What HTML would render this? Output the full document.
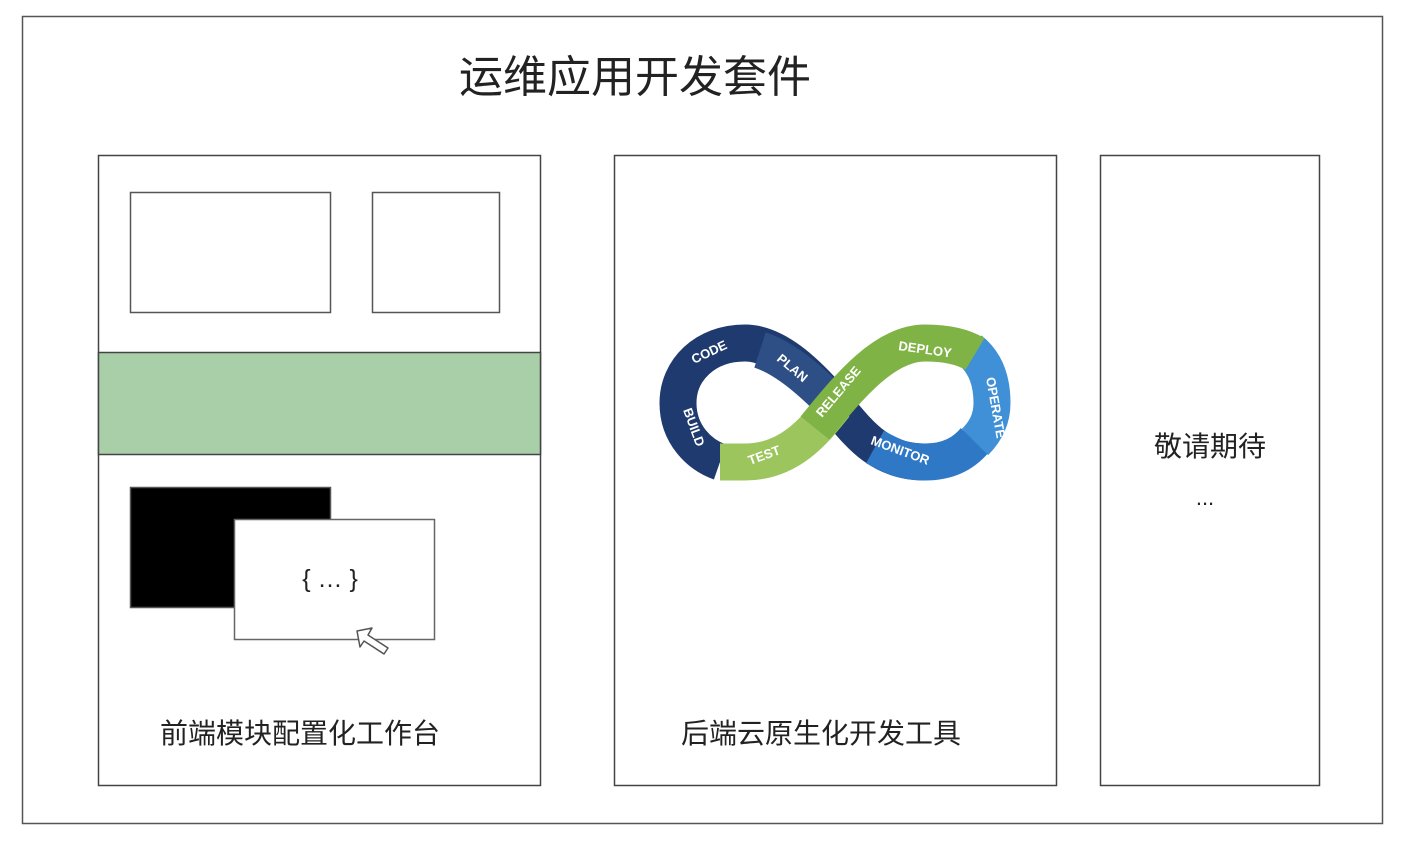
<!DOCTYPE html>
<html><head><meta charset="utf-8"><style>
html,body{margin:0;padding:0;background:#fff;}
body{width:1406px;height:836px;overflow:hidden;}
text{font-family:"Liberation Sans","Noto Sans CJK SC",sans-serif;}
</style></head><body>
<svg width="1406" height="836" viewBox="0 0 1406 836" xmlns="http://www.w3.org/2000/svg">
<rect x="0" y="0" width="1406" height="836" fill="#fff"/>
<rect x="22.5" y="16.5" width="1360" height="807" fill="none" stroke="#555" stroke-width="1.5"/>
<text x="459" y="92" font-size="44" fill="#222">运维应用开发套件</text>

<!-- left panel -->
<rect x="98.5" y="155.5" width="442" height="630" fill="#fff" stroke="#444" stroke-width="1.5"/>
<rect x="130.5" y="192.5" width="200" height="120" fill="#fff" stroke="#555" stroke-width="1.5"/>
<rect x="372.5" y="192.5" width="127" height="120" fill="#fff" stroke="#555" stroke-width="1.5"/>
<rect x="98.5" y="352.5" width="442" height="102" fill="#a9cfa9" stroke="#444" stroke-width="1.5"/>
<rect x="130.5" y="487.5" width="200" height="120" fill="#000" stroke="#555" stroke-width="1.5"/>
<rect x="234.5" y="519.5" width="200" height="120" fill="#fff" stroke="#666" stroke-width="1.5"/>
<text x="330" y="587" font-size="25" fill="#222" text-anchor="middle">{ … }</text>
<path d="M357,631 L372,628 L368,635 L388,648 L384,654 L364,641 L360,647 Z" fill="#fff" stroke="#555" stroke-width="1.5" stroke-linejoin="round"/>
<text x="300" y="743" font-size="28" fill="#222" text-anchor="middle">前端模块配置化工作台</text>

<!-- middle panel -->
<rect x="614.5" y="155.5" width="442" height="630" fill="#fff" stroke="#444" stroke-width="1.5"/>
<g fill="none" stroke-width="37">
<path d="M720,462 C 700,455 678,435 678,403 C 678,370 705,343 745,343 C 775,343 805,370 835,405" stroke="#1f3a6e"/>
<path d="M760,350 C 785,358 810,380 835,405" stroke="#2e4e86"/>
<path d="M835,405 C 860,435 880,462 925,462" stroke="#1f3a6e"/>
<path d="M875,447 C 895,458 905,462 925,462 C 950,462 965,452 975,440" stroke="#2f78c6"/>
<path d="M970,350 C 985,362 992,380 992,403 C 992,420 985,432 975,442" stroke="#3f90d6"/>
<path d="M720,462 L745,462 C 790,462 815,430 835,405" stroke="#9cc55e"/>
<path d="M815,428 C 850,385 885,343 925,343 C 950,343 965,348 975,354" stroke="#80b345"/>
</g>
<g fill="#fff" font-size="13" font-weight="bold">
<text transform="translate(694,364) rotate(-25)">CODE</text>
<text transform="translate(776,360) rotate(40)">PLAN</text>
<text transform="translate(822,418) rotate(-50)">RELEASE</text>
<text transform="translate(898,350) rotate(8)">DEPLOY</text>
<text transform="translate(986,378) rotate(80)">OPERATE</text>
<text transform="translate(870,444) rotate(20)">MONITOR</text>
<text transform="translate(750,465) rotate(-20)">TEST</text>
<text transform="translate(683,410) rotate(70)">BUILD</text>
</g>
<text x="821" y="743" font-size="28" fill="#222" text-anchor="middle">后端云原生化开发工具</text>

<!-- right panel -->
<rect x="1100.5" y="155.5" width="219" height="630" fill="#fff" stroke="#444" stroke-width="1.5"/>
<text x="1210" y="456" font-size="28" fill="#222" text-anchor="middle">敬请期待</text>
<text x="1205" y="505" font-size="22" fill="#222" text-anchor="middle">...</text>
</svg>
</body></html>
